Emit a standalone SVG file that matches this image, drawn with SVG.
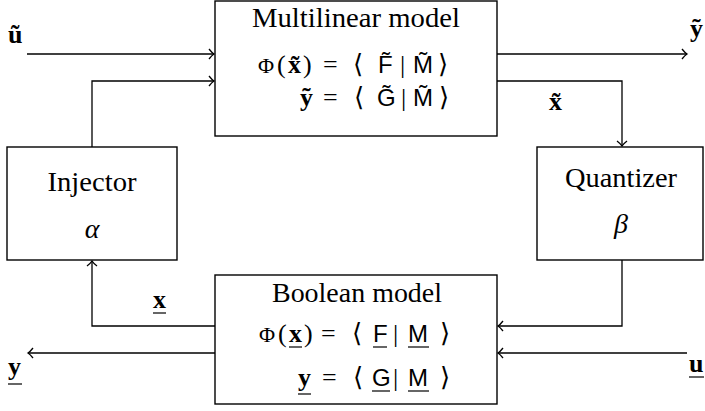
<svg xmlns="http://www.w3.org/2000/svg" width="705" height="411" viewBox="0 0 705 411">
<defs>
<style>
.box{fill:#fff;stroke:#000;stroke-width:1.4}
.ln{fill:none;stroke:#000;stroke-width:1.3}
.ul{stroke:#000;stroke-width:1.2}
text{fill:#000}
.t{font-family:"Liberation Serif","DejaVu Serif",serif;font-size:26px}
.h{font-size:28px}
.b{font-weight:bold}
.i{font-style:italic}
.s{font-family:"Liberation Sans",sans-serif;font-size:24px}
.p{font-size:22px}
.m{text-anchor:middle}
</style>
<marker id="ah" markerUnits="userSpaceOnUse" markerWidth="14" markerHeight="14" viewBox="-8 -7 10 14" refX="0" refY="0" orient="auto" overflow="visible">
<path d="M-5,-5 Q-2,-1.2 0,0 Q-2,1.2 -5,5" fill="none" stroke="#000" stroke-width="1.3"/>
</marker>
</defs>
<rect width="705" height="411" fill="#fff"/>
<g id="connectors">
<path class="ln" d="M27,54 H214" marker-end="url(#ah)"/>
<path class="ln" d="M92,147 V81 H214" marker-end="url(#ah)"/>
<path class="ln" d="M497,54 H687" marker-end="url(#ah)"/>
<path class="ln" d="M497,81 H622 V146" marker-end="url(#ah)"/>
<path class="ln" d="M622,260 V326 H498" marker-end="url(#ah)"/>
<path class="ln" d="M687,353 H498" marker-end="url(#ah)"/>
<path class="ln" d="M215,326 H92 V261" marker-end="url(#ah)"/>
<path class="ln" d="M215,353 H28" marker-end="url(#ah)"/>
</g>
<g id="multilinear">
<rect class="box" x="215" y="1" width="282" height="135"/>
<text class="t h m" x="356" y="27" textLength="208" lengthAdjust="spacingAndGlyphs">Multilinear model</text>
<text class="t" y="73"><tspan class="p" x="258">Φ</tspan><tspan x="277">(</tspan><tspan class="b" x="288">x&#x303;</tspan><tspan x="303">)</tspan><tspan x="323">=</tspan><tspan x="353">⟨</tspan><tspan class="s" x="378">F&#x303;</tspan><tspan x="400">|</tspan><tspan class="s" x="413">M&#x303;</tspan><tspan x="438">⟩</tspan></text>
<text class="t" y="106"><tspan class="b" x="300">y&#x303;</tspan><tspan x="323">=</tspan><tspan x="354">⟨</tspan><tspan class="s" x="377">G&#x303;</tspan><tspan x="401">|</tspan><tspan class="s" x="413">M&#x303;</tspan><tspan x="439">⟩</tspan></text>
</g>
<g id="injector">
<rect class="box" x="7" y="147" width="170" height="113"/>
<text class="t h m" x="92" y="191" textLength="89" lengthAdjust="spacingAndGlyphs">Injector</text>
<text class="t h i m" x="92" y="238">α</text>
</g>
<g id="quantizer">
<rect class="box" x="537" y="147" width="166" height="113"/>
<text class="t h m" x="621" y="187" textLength="112" lengthAdjust="spacingAndGlyphs">Quantizer</text>
<text class="t h i m" x="621" y="233">β</text>
</g>
<g id="boolean">
<rect class="box" x="215" y="275" width="282" height="129"/>
<text class="t h m" x="357" y="302" textLength="170" lengthAdjust="spacingAndGlyphs">Boolean model</text>
<text class="t" y="342"><tspan class="p" x="259">Φ</tspan><tspan x="278">(</tspan><tspan class="b" x="289">x</tspan><tspan x="304">)</tspan><tspan x="321">=</tspan><tspan x="352">⟨</tspan><tspan class="s" x="373">F</tspan><tspan x="393">|</tspan><tspan class="s" x="408">M</tspan><tspan x="440">⟩</tspan></text>
<line class="ul" x1="289" y1="347" x2="302" y2="347"/>
<line class="ul" x1="373" y1="347" x2="387" y2="347"/>
<line class="ul" x1="408" y1="347" x2="429" y2="347"/>
<text class="t" y="386"><tspan class="b" x="298">y</tspan><tspan x="322">=</tspan><tspan x="353">⟨</tspan><tspan class="s" x="372">G</tspan><tspan x="393">|</tspan><tspan class="s" x="408">M</tspan><tspan x="440">⟩</tspan></text>
<line class="ul" x1="298" y1="394" x2="311" y2="394"/>
<line class="ul" x1="372" y1="391" x2="390" y2="391"/>
<line class="ul" x1="408" y1="391" x2="429" y2="391"/>
</g>
<g id="labels">
<text class="t b" x="8" y="43">u&#x303;</text>
<text class="t b" x="690" y="37">y&#x303;</text>
<text class="t b" x="549" y="110">x&#x303;</text>
<text class="t b" x="153" y="308">x</text>
<line class="ul" x1="153" y1="313" x2="166" y2="313"/>
<text class="t b" x="8" y="375">y</text>
<line class="ul" x1="8" y1="384" x2="22" y2="384"/>
<text class="t b" x="689" y="372">u</text>
<line class="ul" x1="689" y1="377" x2="704" y2="377"/>
</g>
</svg>
